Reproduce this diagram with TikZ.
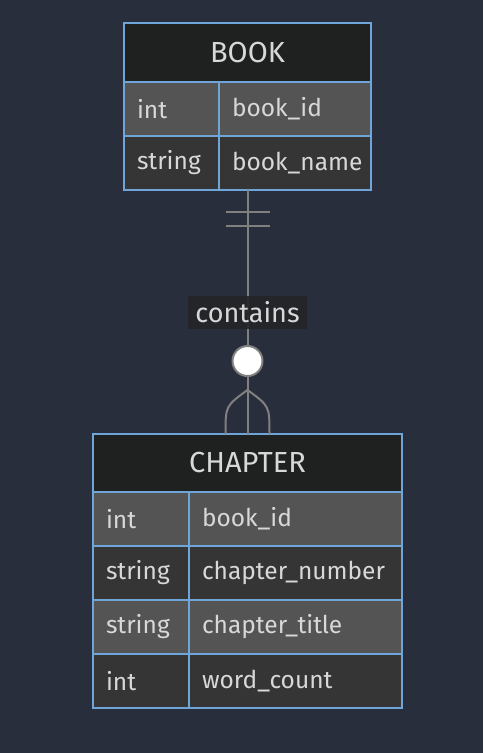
\documentclass[tikz,border=0pt]{standalone}
\usepackage{fontspec}
\setmainfont{Fira Sans}
\usepackage{xcolor}
\usepackage{tikz}
\usetikzlibrary{positioning,calc}
\definecolor{canvas}{HTML}{282E3B}
\definecolor{headfill}{HTML}{1F2020}
\definecolor{rowlight}{HTML}{545454}
\definecolor{rowdark}{HTML}{353535}
\definecolor{edge}{HTML}{6FA5D8}
\definecolor{ink}{HTML}{D8D8D8}
\definecolor{wire}{HTML}{808080}
\definecolor{tagbg}{HTML}{232527}

\begin{document}
\begin{tikzpicture}[
    x=1pt, y=-1pt,
    cell/.style={draw=edge, line width=2pt, outer sep=0pt, inner xsep=13pt, inner ysep=0pt, minimum height=54pt, align=left, text=ink, font=\fontsize{24.5}{28}\selectfont},
    headcell/.style={cell, fill=headfill, align=center, inner xsep=0pt, font=\fontsize{29}{32}\selectfont},
    light/.style={fill=rowlight},
    dark/.style={fill=rowdark},
    rel/.style={draw=wire, line width=2pt},
    tag/.style={fill=tagbg, fill opacity=0.9, text opacity=1, text=ink, inner xsep=7pt, inner ysep=2pt, minimum height=33pt, font=\fontsize{27}{30}\selectfont}
]
    \fill[canvas] (0,0) rectangle (483,753);

    % BOOK
    \node[headcell, minimum width=247pt, minimum height=59pt, anchor=north] (bookhd) at (247.5,23) {BOOK};
    \node[cell, light, text width=69pt, anchor=north west] (bookt1) at (bookhd.south west) {int};
    \node[cell, light, text width=126pt, right=0pt of bookt1] (bookn1) {book\_id};
    \node[cell, dark, text width=69pt, below=0pt of bookt1] (bookt2) {string};
    \node[cell, dark, text width=126pt, right=0pt of bookt2] (bookn2) {book\_name};

    % CHAPTER
    \node[headcell, minimum width=309pt, minimum height=58pt, anchor=north] (chaphd) at (247.5,434) {CHAPTER};
    \node[cell, light, text width=70pt, anchor=north west] (chapt1) at (chaphd.south west) {int};
    \node[cell, light, text width=187pt, right=0pt of chapt1] (chapn1) {book\_id};
    \node[cell, dark, text width=70pt, below=0pt of chapt1] (chapt2) {string};
    \node[cell, dark, text width=187pt, right=0pt of chapt2] (chapn2) {chapter\_number};
    \node[cell, light, text width=70pt, below=0pt of chapt2] (chapt3) {string};
    \node[cell, light, text width=187pt, right=0pt of chapt3] (chapn3) {chapter\_title};
    \node[cell, dark, text width=70pt, below=0pt of chapt3] (chapt4) {int};
    \node[cell, dark, text width=187pt, right=0pt of chapt4] (chapn4) {word\_count};

    % relation
    \coordinate (bookfoot) at (bookhd.center |- bookt2.south);
    \coordinate (fan) at ($(chaphd.north)+(0,-44)$);
    \draw[rel] (bookfoot) -- (chaphd.north);
    \draw[rel] ($(bookfoot)+(-22,22)$) -- ++(44,0);
    \draw[rel] ($(bookfoot)+(-22,36)$) -- ++(44,0);
    \draw[rel] (fan) .. controls ($(chaphd.north)+(-22,-28)$) .. ($(chaphd.north)+(-22,0)$);
    \draw[rel] (fan) .. controls ($(chaphd.north)+(22,-28)$) .. ($(chaphd.north)+(22,0)$);
    \node[circle, draw=wire, line width=2pt, fill=white, minimum size=30pt, inner sep=0pt] (zero) at ($(chaphd.north)+(0,-73)$) {};
    \node[tag] (lbl) at ($(bookfoot)!0.5!(chaphd.north)$) {contains};
\end{tikzpicture}
\end{document}
